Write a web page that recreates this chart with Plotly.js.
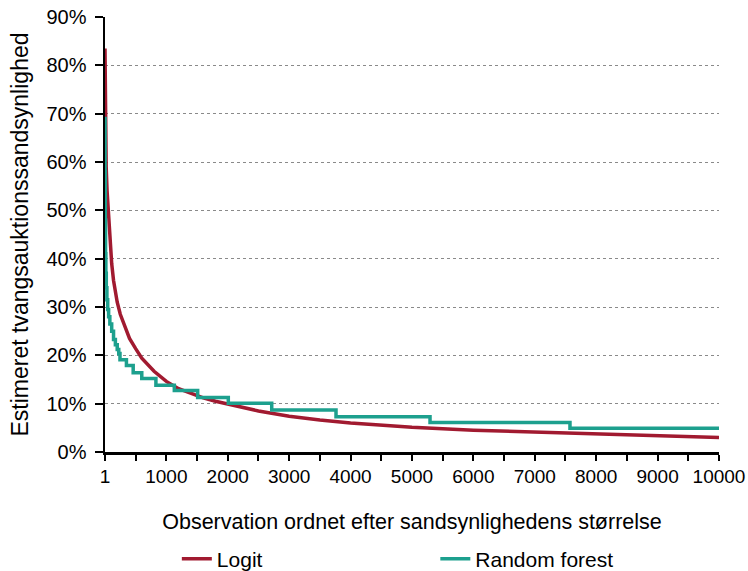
<!DOCTYPE html>
<html>
<head>
<meta charset="utf-8">
<script src="https://cdn.plot.ly/plotly-3.0.1.min.js"></script>
<style>html,body{margin:0;padding:0;background:#fff;}#chart{width:748px;height:571px;}</style>
</head>
<body>
<div id="chart"></div>
<script>
// Logit: estimated probability (%) by observation rank
const logitX = [1, 3, 6, 10, 20, 35, 55, 80, 110, 140, 165, 200, 250, 300, 400, 500, 600, 800, 1000, 1200, 1400, 1600, 1800, 2000, 2200, 2500, 3000, 3500, 4000, 5000, 6000, 7000, 8000, 9000, 10000];
const logitY = [83.5, 76, 70, 65, 59, 54, 50, 44, 39, 35.5, 33.5, 31, 28.5, 26.8, 23.5, 21.4, 19.4, 16.7, 14.6, 13.1, 12.1, 11.2, 10.5, 9.9, 9.4, 8.5, 7.4, 6.6, 6.0, 5.1, 4.5, 4.1, 3.7, 3.3, 3.0];

// Random forest: step function (value holds until next x)
const rfX = [1, 3, 6, 10, 15, 22, 32, 45, 60, 80, 110, 140, 170, 200, 225, 245, 350, 460, 600, 830, 1130, 1510, 2009, 2716, 3763, 5294, 7573, 10000];
const rfY = [69, 58, 48, 41, 37, 34, 31.5, 29.5, 28, 26.5, 25, 23.3, 22.2, 21.2, 20.4, 19.1, 17.9, 16.4, 15.2, 13.8, 12.7, 11.3, 10.1, 8.7, 7.3, 6.1, 4.9, 4.9];

// Axis ticks
const xTickVals = [1, 500, 1000, 1500, 2000, 2500, 3000, 3500, 4000, 4500, 5000, 5500, 6000, 6500, 7000, 7500, 8000, 8500, 9000, 9500, 10000];
const xTickText = ["1", "", "1000", "", "2000", "", "3000", "", "4000", "", "5000", "", "6000", "", "7000", "", "8000", "", "9000", "", "10000"];

const FONT = "Liberation Sans, Arial, sans-serif";

const traces = [
  {x: logitX, y: logitY, type: "scatter", mode: "lines", name: "Logit",
   line: {color: "#A11A30", width: 3.5}, legend: "legend"},
  {x: rfX, y: rfY, type: "scatter", mode: "lines", name: "Random forest",
   line: {color: "#1DA08E", width: 3.5, shape: "hv"}, legend: "legend2"}
];

const legendBase = {orientation: "h", xanchor: "left", yanchor: "middle",
  xref: "container", yref: "container", y: 0.021,
  font: {size: 21, family: FONT}, bgcolor: "rgba(0,0,0,0)", borderwidth: 0};

const layout = {
  width: 748, height: 571,
  margin: {l: 105, r: 29, t: 17, b: 119},
  paper_bgcolor: "#fff", plot_bgcolor: "#fff",
  font: {family: FONT, color: "#000", size: 20},
  xaxis: {
    range: [1, 10000], tickvals: xTickVals, ticktext: xTickText,
    showgrid: false, zeroline: false, automargin: false,
    showline: true, linecolor: "#000", linewidth: 2.5,
    ticks: "outside", ticklen: 6, tickwidth: 2, tickcolor: "#000",
    tickfont: {size: 19, family: FONT},
    title: {text: "Observation ordnet efter sandsynlighedens størrelse", font: {size: 21.5, family: FONT}, standoff: 28}
  },
  yaxis: {
    range: [0, 90], dtick: 10, tick0: 0, ticksuffix: "%",
    showgrid: true, gridcolor: "#8a8a8a", gridwidth: 1, griddash: "dot",
    zeroline: false, automargin: false,
    showline: true, linecolor: "#000", linewidth: 2.5,
    ticks: "outside", ticklen: 8, tickwidth: 2, tickcolor: "#000",
    tickfont: {size: 20, family: FONT}, ticklabelstandoff: 4,
    title: {text: "Estimeret tvangsauktionssandsynlighed", font: {size: 23, family: FONT}, standoff: 12}
  },
  showlegend: true,
  legend: Object.assign({}, legendBase, {x: (105 + 0.117 * 614) / 748}),
  legend2: Object.assign({}, legendBase, {x: (105 + 0.538 * 614) / 748})
};

Plotly.newPlot("chart", traces, layout, {displayModeBar: false, staticPlot: true});
</script>
</body>
</html>
